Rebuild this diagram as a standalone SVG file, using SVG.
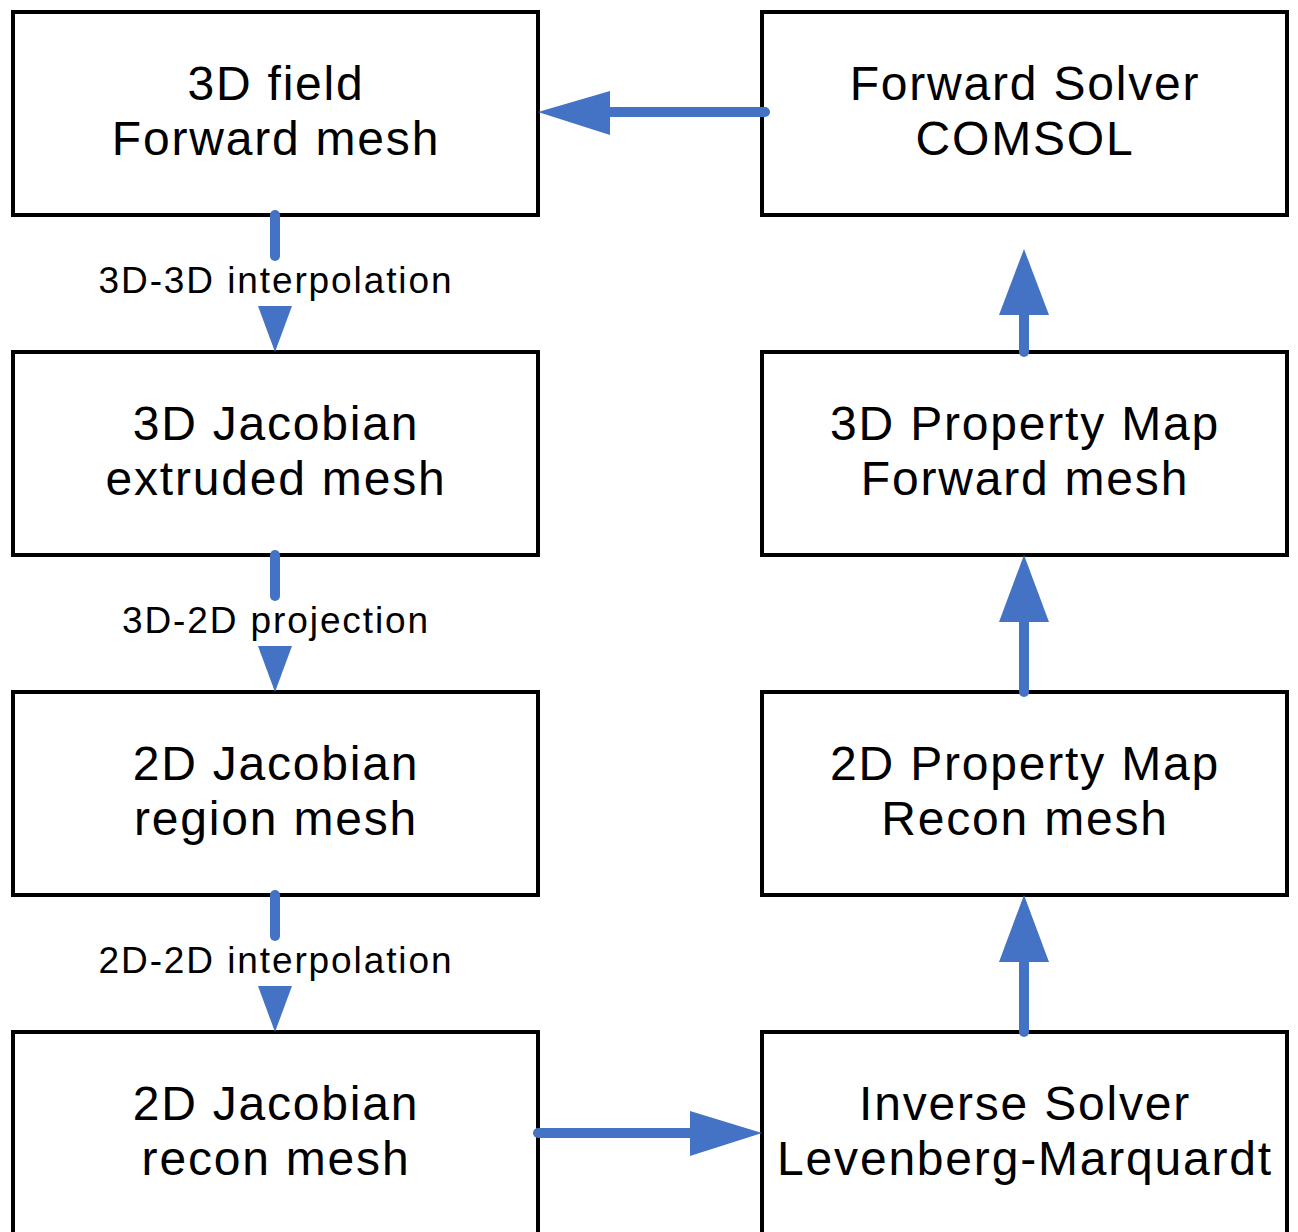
<svg xmlns="http://www.w3.org/2000/svg" width="1298" height="1232" viewBox="0 0 1298 1232">
<style>
.box{fill:#fff;stroke:#000;stroke-width:4}
.t{font-family:"Liberation Sans",Arial,sans-serif;font-size:48px;letter-spacing:1.8px;text-anchor:middle;fill:#000}
.lbl{font-family:"Liberation Sans",Arial,sans-serif;font-size:37px;letter-spacing:1.9px;text-anchor:middle;fill:#000}
.ln{stroke:#4472C4;stroke-width:10;stroke-linecap:round;fill:none}
.hd{fill:#4472C4}
</style>
<rect width="1298" height="1232" fill="#fff"/>
<g id="n1"><rect class="box" x="13" y="12" width="525" height="203"/><text class="t" x="276" y="100">3D field</text><text class="t" x="276" y="155">Forward mesh</text></g>
<g id="n2"><rect class="box" x="13" y="352" width="525" height="203"/><text class="t" x="276" y="440">3D Jacobian</text><text class="t" x="276" y="495">extruded mesh</text></g>
<g id="n3"><rect class="box" x="13" y="692" width="525" height="203"/><text class="t" x="276" y="780">2D Jacobian</text><text class="t" x="276" y="835">region mesh</text></g>
<g id="n4"><rect class="box" x="13" y="1032" width="525" height="220"/><text class="t" x="276" y="1120">2D Jacobian</text><text class="t" x="276" y="1175">recon mesh</text></g>
<g id="n5"><rect class="box" x="762" y="12" width="525" height="203"/><text class="t" x="1025" y="100">Forward Solver</text><text class="t" x="1025" y="155">COMSOL</text></g>
<g id="n6"><rect class="box" x="762" y="352" width="525" height="203"/><text class="t" x="1025" y="440">3D Property Map</text><text class="t" x="1025" y="495">Forward mesh</text></g>
<g id="n7"><rect class="box" x="762" y="692" width="525" height="203"/><text class="t" x="1025" y="780">2D Property Map</text><text class="t" x="1025" y="835">Recon mesh</text></g>
<g id="n8"><rect class="box" x="762" y="1032" width="525" height="220"/><text class="t" x="1025" y="1120">Inverse Solver</text><text class="t" x="1025" y="1175">Levenberg-Marquardt</text></g>
<g id="connectors">
<line class="ln" x1="275" y1="215" x2="275" y2="256"/><polygon class="hd" points="258,306 292,306 275,352"/>
<text class="lbl" x="276" y="293">3D-3D interpolation</text>
<line class="ln" x1="275" y1="555" x2="275" y2="596"/><polygon class="hd" points="258,646 292,646 275,692"/>
<text class="lbl" x="276" y="633">3D-2D projection</text>
<line class="ln" x1="275" y1="895" x2="275" y2="936"/><polygon class="hd" points="258,986 292,986 275,1032"/>
<text class="lbl" x="276" y="973">2D-2D interpolation</text>
<line class="ln" x1="538" y1="1133" x2="692" y2="1133"/><polygon class="hd" points="690,1111 690,1156 762,1133"/>
<line class="ln" x1="1024" y1="1032" x2="1024" y2="958"/><polygon class="hd" points="999,962 1049,962 1024,895"/>
<line class="ln" x1="1024" y1="692" x2="1024" y2="618"/><polygon class="hd" points="999,622 1049,622 1024,555"/>
<line class="ln" x1="1024" y1="352" x2="1024" y2="312"/><polygon class="hd" points="999,315 1049,315 1024,249"/>
<line class="ln" x1="765" y1="112" x2="608" y2="112"/><polygon class="hd" points="610,91 610,135 538,112"/>
</g>
</svg>
